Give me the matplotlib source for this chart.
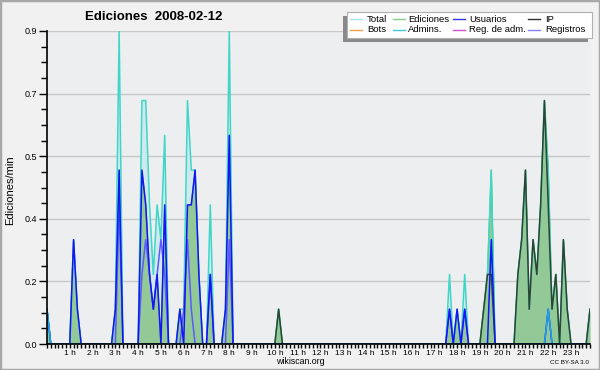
import numpy as np
import matplotlib
matplotlib.use('Agg')
import matplotlib.pyplot as plt
from matplotlib.lines import Line2D
from matplotlib.patches import Rectangle

plt.rcParams['font.family'] = ['Liberation Sans', 'DejaVu Sans']

# ediciones por minuto, una muestra cada 10 min (144 por dia)
# cada fila = 2 horas
total = [
    .1, 0, 0, 0, 0, 0, 0, .3, .1, 0, 0, 0,
    0, 0, 0, 0, 0, 0, .1, .9, 0, 0, 0, 0,
    0, .7, .7, .4, .2, .4, .3, .6, 0, 0, 0, .1,
    .1, .7, .5, .5, .2, 0, 0, .4, 0, 0, 0, .1,
    .9, 0, 0, 0, 0, 0, 0, 0, 0, 0, 0, 0,
    0, .1, 0, 0, 0, 0, 0, 0, 0, 0, 0, 0,
    0, 0, 0, 0, 0, 0, 0, 0, 0, 0, 0, 0,
    0, 0, 0, 0, 0, 0, 0, 0, 0, 0, 0, 0,
    0, 0, 0, 0, 0, 0, 0, 0, 0, 0, .2, 0,
    .1, 0, .2, 0, 0, 0, 0, .1, .2, .5, 0, 0,
    0, 0, 0, 0, .2, .3, .5, .1, .3, .2, .4, .7,
    .5, .1, .2, 0, .3, .1, 0, 0, 0, 0, 0, .1,
]
ediciones = [
    .1, 0, 0, 0, 0, 0, 0, .3, .1, 0, 0, 0,
    0, 0, 0, 0, 0, 0, .1, .5, 0, 0, 0, 0,
    0, .5, .4, .2, .1, .2, 0, .4, 0, 0, 0, .1,
    0, .4, .4, .5, .2, 0, 0, .2, 0, 0, 0, .1,
    .6, 0, 0, 0, 0, 0, 0, 0, 0, 0, 0, 0,
    0, .1, 0, 0, 0, 0, 0, 0, 0, 0, 0, 0,
    0, 0, 0, 0, 0, 0, 0, 0, 0, 0, 0, 0,
    0, 0, 0, 0, 0, 0, 0, 0, 0, 0, 0, 0,
    0, 0, 0, 0, 0, 0, 0, 0, 0, 0, .1, 0,
    .1, 0, .1, 0, 0, 0, 0, .1, .2, .5, 0, 0,
    0, 0, 0, 0, .2, .3, .5, .1, .3, .2, .4, .7,
    .5, .1, .2, 0, .3, .1, 0, 0, 0, 0, 0, .1,
]
usuarios = [
    .1, 0, 0, 0, 0, 0, 0, .3, .1, 0, 0, 0,
    0, 0, 0, 0, 0, 0, .1, .5, 0, 0, 0, 0,
    0, .5, .4, .2, .1, .2, 0, .4, 0, 0, 0, .1,
    0, .4, .4, .5, .2, 0, 0, .2, 0, 0, 0, .1,
    .6, 0, 0, 0, 0, 0, 0, 0, 0, 0, 0, 0,
    0, 0, 0, 0, 0, 0, 0, 0, 0, 0, 0, 0,
    0, 0, 0, 0, 0, 0, 0, 0, 0, 0, 0, 0,
    0, 0, 0, 0, 0, 0, 0, 0, 0, 0, 0, 0,
    0, 0, 0, 0, 0, 0, 0, 0, 0, 0, .1, 0,
    .1, 0, .1, 0, 0, 0, 0, 0, 0, .3, 0, 0,
    0, 0, 0, 0, 0, 0, 0, 0, 0, 0, 0, 0,
    .1, 0, 0, 0, 0, 0, 0, 0, 0, 0, 0, 0,
]
ip = [
    0, 0, 0, 0, 0, 0, 0, 0, 0, 0, 0, 0,
    0, 0, 0, 0, 0, 0, 0, 0, 0, 0, 0, 0,
    0, 0, 0, 0, 0, 0, 0, 0, 0, 0, 0, 0,
    0, 0, 0, 0, 0, 0, 0, 0, 0, 0, 0, 0,
    0, 0, 0, 0, 0, 0, 0, 0, 0, 0, 0, 0,
    0, .1, 0, 0, 0, 0, 0, 0, 0, 0, 0, 0,
    0, 0, 0, 0, 0, 0, 0, 0, 0, 0, 0, 0,
    0, 0, 0, 0, 0, 0, 0, 0, 0, 0, 0, 0,
    0, 0, 0, 0, 0, 0, 0, 0, 0, 0, 0, 0,
    0, 0, 0, 0, 0, 0, 0, .1, .2, .2, 0, 0,
    0, 0, 0, 0, .2, .3, .5, .1, .3, .2, .4, .7,
    .4, .1, .2, 0, .3, .1, 0, 0, 0, 0, 0, .1,
]
registros = [
    0, 0, 0, 0, 0, 0, 0, 0, 0, 0, 0, 0,
    0, 0, 0, 0, 0, 0, 0, .4, 0, 0, 0, 0,
    0, .2, .3, .2, .1, .2, .3, .2, 0, 0, 0, 0,
    .1, .3, .1, 0, 0, 0, 0, .2, 0, 0, 0, 0,
    .3, 0, 0, 0, 0, 0, 0, 0, 0, 0, 0, 0,
    0, 0, 0, 0, 0, 0, 0, 0, 0, 0, 0, 0,
    0, 0, 0, 0, 0, 0, 0, 0, 0, 0, 0, 0,
    0, 0, 0, 0, 0, 0, 0, 0, 0, 0, 0, 0,
    0, 0, 0, 0, 0, 0, 0, 0, 0, 0, .1, 0,
    0, 0, .1, 0, 0, 0, 0, 0, 0, 0, 0, 0,
    0, 0, 0, 0, 0, 0, 0, 0, 0, 0, 0, 0,
    0, 0, 0, 0, 0, 0, 0, 0, 0, 0, 0, 0,
]
admins = [0.0] * 144
admins[0] = .1
admins[132] = .1
bots = [0.0] * 144
reg_adm = [0.0] * 144

horas = ['%d h' % h for h in range(1, 24)]

W, H = 600, 370
def fx(x):
    return x / W
def fy(y):
    return 1 - y / H

fig = plt.figure(figsize=(6, 3.7), dpi=100, facecolor='#f1f1f1')
ax = fig.add_axes([fx(47), fy(344), 543 / W, 313 / H])
ax.set_facecolor('#eceef0')

x = np.arange(len(total))
ax.fill_between(x, total, color='#d0e9ee', lw=0, zorder=1)
ax.fill_between(x, ediciones, color='#92c996', lw=0, zorder=1.5)
ax.plot(x, ediciones, color='#5cbf5c', lw=0.9, zorder=1.9)
ax.plot(x, total, color='#3fd6c8', lw=1.1, zorder=2)
ax.plot(x, bots, color='#f0a040', lw=1.0, zorder=2.1)
ax.plot(x, reg_adm, color='#d050d0', lw=1.0, zorder=2.1)
ax.plot(x, ip, color='#2b4433', lw=1.1, zorder=2.2)
ax.plot(x, registros, color='#5a5aff', lw=1.1, zorder=2.3)
ax.plot(x, usuarios, color='#1414f5', lw=1.1, zorder=2.4)
ax.plot(x, admins, color='#1ea4e8', lw=1.1, zorder=2.5)

ax.set_xlim(0, 143)
ax.set_ylim(0, 0.9)

yt = np.linspace(0, 0.9, 6)
ax.set_yticks(yt)
ax.set_yticklabels(['%.1f' % v for v in yt])
ax.set_yticks(np.linspace(0, 0.9, 21), minor=True)
ax.set_xticks(np.arange(6, 144, 6))
ax.set_xticklabels(horas)
ax.set_xticks(np.arange(0, 144), minor=True)

ax.tick_params(axis='y', which='major', length=6, width=1, labelsize=6.5, pad=1)
ax.tick_params(axis='y', which='minor', length=4, width=1)
ax.tick_params(axis='x', which='both', length=3, width=1, labelsize=6, pad=1)

ax.yaxis.grid(True, which='major', color='#c8c8c8', lw=1)
ax.set_axisbelow(True)
for s in ['top', 'right']:
    ax.spines[s].set_visible(False)
for s in ['left', 'bottom']:
    ax.spines[s].set_linewidth(1.2)
    ax.spines[s].set_zorder(5)

fig.text(fx(154), fy(17), 'Ediciones  2008-02-12', fontsize=9.5,
         fontweight='bold', ha='center', va='center')
fig.text(fx(10), fy(190), 'Ediciones/min', fontsize=8, rotation=90,
         ha='center', va='center')
fig.text(fx(300), fy(361), 'wikiscan.org', fontsize=6.3, ha='center', va='center')
fig.text(fx(589), fy(363), 'CC BY-SA 3.0', fontsize=4.5, ha='right', va='center')

# leyenda dibujada a mano
fig.add_artist(Rectangle((fx(343), fy(42)), 245 / W, 26 / H, transform=fig.transFigure,
                         facecolor='#8a8a8a', edgecolor='none', zorder=10))
fig.add_artist(Rectangle((fx(347), fy(38)), 245 / W, 26 / H, transform=fig.transFigure,
                         facecolor='white', edgecolor='#b0b0b0', lw=0.8, zorder=11))
nombres = ['Total', 'Ediciones', 'Usuarios', 'IP',
           'Bots', 'Admins.', 'Reg. de adm.', 'Registros']
colores = ['#a8e4e8', '#88d088', '#3434e8', '#303030',
           '#f0a040', '#40c8e0', '#d050d0', '#8080f0']
col_x = [350, 393, 453, 528]
txt_x = [367, 408, 469, 545]
fila_y = [19, 29.5]
for k, (nom, c) in enumerate(zip(nombres, colores)):
    cx = col_x[k % 4]
    ty = fila_y[k // 4]
    fig.add_artist(Line2D([fx(cx), fx(cx + 12)], [fy(ty), fy(ty)], color=c, lw=1,
                          transform=fig.transFigure, zorder=12))
    fig.text(fx(txt_x[k % 4]), fy(ty), nom, fontsize=6.8, ha='left', va='center', zorder=12)

fig.add_artist(Rectangle((0, 0), 1, 1, transform=fig.transFigure, fill=False,
                         edgecolor='#a8a8a8', lw=2.5, zorder=20))

fig.savefig('out.png', dpi=100, facecolor=fig.get_facecolor())
